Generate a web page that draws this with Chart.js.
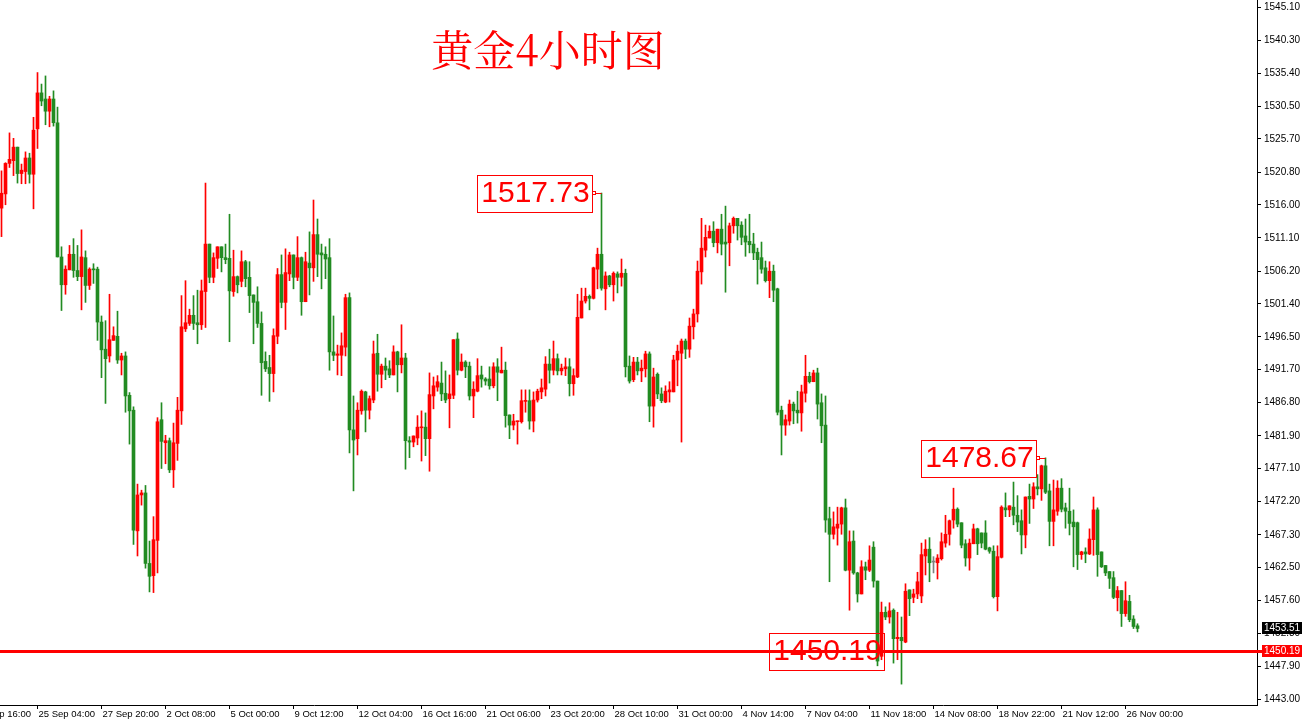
<!DOCTYPE html>
<html>
<head>
<meta charset="utf-8">
<script src="https://cdn.jsdelivr.net/npm/chart.js@4.4.0/dist/chart.umd.min.js"></script>
<style>
  html, body { margin: 0; padding: 0; background: #fff; overflow: hidden; }
  #wrap { width: 1303px; height: 719px; }
</style>
</head>
<body>
<div id="wrap"><canvas id="c" width="1303" height="719"></canvas></div>
<script>
// ── 4h candles, oldest first ────────────────────────────────
const opens = [
  1515.5,1517.6,1522.1,1522.5,1524.5,1520.6,1520.9,1522.9,1520.5,1527.2,
  1532.5,1531.6,1529.8,1531.6,1528.1,1508.3,1504.2,1506.4,1508.7,1506.3,
  1505.4,1508.2,1504.1,1506.5,1506.5,1498.7,1494.7,1493.7,1496.0,1496.6,
  1493.1,1493.7,1487.9,1485.7,1467.9,1473.2,1473.5,1463.1,1461.3,1466.5,
  1484.3,1480.9,1481.2,1476.9,1480.8,1485.6,1497.7,1498.5,1499.7,1498.6,
  1498.3,1503.2,1510.2,1505.3,1508.1,1509.8,1508.2,1508.1,1503.2,1505.4,
  1504.7,1507.6,1505.3,1502.7,1501.7,1498.5,1492.9,1492.0,1491.1,1496.6,
  1505.7,1501.6,1505.8,1508.6,1505.3,1508.2,1501.7,1507.4,1506.7,1511.6,
  1508.9,1508.7,1508.2,1494.3,1493.8,1493.8,1495.0,1502.3,1482.8,1481.5,
  1485.6,1488.4,1485.7,1487.2,1494.1,1491.0,1492.2,1491.8,1490.9,1494.3,
  1492.4,1493.4,1481.2,1481.0,1481.6,1483.1,1483.2,1481.5,1487.8,1489.1,
  1489.7,1488.2,1487.4,1487.9,1496.2,1491.6,1492.8,1492.2,1487.8,1488.5,
  1490.9,1490.3,1490.3,1489.3,1492.1,1491.2,1491.6,1485.0,1483.5,1484.0,
  1484.0,1487.0,1487.1,1484.1,1487.2,1488.4,1488.8,1492.5,1491.6,1493.3,
  1491.5,1491.8,1492.1,1489.6,1490.6,1499.3,1501.8,1502.5,1502.2,1506.5,
  1508.7,1503.6,1505.5,1504.2,1505.8,1505.3,1505.9,1492.2,1490.2,1492.8,
  1491.5,1491.8,1494.0,1486.3,1491.0,1488.1,1486.9,1488.4,1488.4,1493.1,
  1494.1,1495.9,1494.7,1498.0,1499.9,1506.1,1509.3,1511.1,1512.1,1510.4,
  1512.4,1510.5,1510.4,1512.9,1514.0,1513.0,1511.4,1510.6,1510.2,1509.0,
  1508.2,1506.7,1504.8,1506.2,1503.6,1485.7,1483.5,1484.1,1486.6,1485.7,
  1485.3,1488.2,1490.7,1489.9,1491.2,1486.8,1483.5,1469.7,1467.4,1468.3,
  1468.9,1471.3,1462.1,1466.4,1461.7,1458.6,1462.6,1462.1,1465.5,1460.5,
  1449.4,1455.9,1455.2,1456.2,1452.0,1452.2,1451.5,1459.2,1458.1,1458.6,
  1458.3,1464.2,1465.2,1463.3,1463.2,1463.8,1466.1,1467.4,1469.5,1471.1,
  1469.1,1466.0,1463.9,1466.0,1468.2,1467.6,1467.6,1465.4,1464.9,1458.2,
  1464.0,1471.3,1471.0,1471.4,1470.2,1469.4,1467.3,1473.0,1472.6,1474.4,
  1474.1,1477.5,1473.8,1469.3,1470.8,1474.2,1471.3,1470.8,1469.2,1469.1,
  1464.4,1464.8,1464.5,1466.6,1471.0,1464.8,1462.8,1461.9,1461.0,1458.05,
  1459.1,1455.7,1457.5,1454.9,1453.9
];
const highs = [
  1521.0,1522.2,1526.6,1525.8,1524.5,1522.0,1523.8,1523.6,1528.9,1535.5,
  1533.8,1535.0,1532.0,1532.8,1530.4,1509.8,1507.0,1510.0,1511.0,1510.0,
  1512.3,1509.2,1506.7,1507.3,1506.8,1499.6,1498.9,1502.8,1498.0,1500.3,
  1494.1,1494.3,1488.3,1486.2,1474.8,1473.9,1474.6,1466.4,1470.0,1484.6,
  1486.8,1482.0,1481.6,1483.8,1487.6,1502.6,1504.8,1500.6,1502.6,1503.4,
  1504.9,1519.2,1510.2,1508.9,1509.8,1509.8,1510.2,1514.6,1509.3,1505.5,
  1509.2,1507.8,1507.6,1502.7,1503.9,1500.2,1494.3,1493.8,1497.7,1506.6,
  1508.6,1509.5,1509.0,1508.6,1511.3,1508.3,1509.0,1512.0,1516.7,1513.9,
  1510.2,1509.8,1511.0,1499.6,1495.3,1497.1,1502.8,1503.0,1487.8,1486.8,
  1488.7,1488.5,1487.8,1495.9,1496.9,1492.5,1493.4,1493.0,1495.2,1494.4,
  1498.3,1494.1,1481.8,1481.9,1484.9,1485.6,1485.3,1491.2,1490.6,1490.8,
  1492.8,1491.5,1490.9,1496.1,1497.1,1494.0,1493.0,1492.8,1489.9,1493.3,
  1492.2,1490.5,1492.1,1492.7,1493.3,1495.0,1492.8,1485.0,1485.1,1484.1,
  1488.7,1488.7,1488.7,1488.4,1488.8,1490.3,1493.6,1494.7,1495.9,1494.0,
  1492.5,1493.4,1493.3,1491.8,1502.8,1503.7,1503.7,1502.7,1506.8,1509.6,
  1517.73,1506.1,1505.6,1506.1,1506.1,1508.0,1506.5,1493.7,1493.5,1493.5,
  1493.1,1494.4,1494.3,1491.9,1491.2,1489.0,1489.3,1489.9,1493.8,1495.3,
  1496.2,1496.2,1499.3,1500.6,1507.7,1514.0,1513.0,1512.9,1513.5,1512.4,
  1514.6,1515.8,1513.3,1514.2,1514.0,1513.5,1513.9,1514.6,1511.8,1509.6,
  1510.5,1507.7,1507.6,1507.1,1503.7,1486.3,1485.0,1487.2,1486.9,1488.5,
  1489.4,1493.8,1491.3,1491.6,1491.9,1488.1,1487.8,1471.4,1470.7,1471.4,
  1471.4,1472.6,1467.9,1467.9,1461.8,1463.5,1463.3,1465.7,1466.3,1460.5,
  1457.4,1456.7,1457.3,1456.4,1455.9,1455.2,1460.1,1459.2,1459.3,1461.8,
  1466.1,1466.6,1466.9,1464.1,1464.4,1467.6,1470.2,1469.5,1474.2,1471.3,
  1469.1,1466.6,1466.7,1468.9,1468.3,1467.6,1469.4,1465.5,1465.7,1465.7,
  1471.6,1473.5,1471.6,1475.1,1473.1,1471.0,1472.9,1474.8,1475.0,1476.2,
  1477.6,1478.67,1474.8,1475.4,1475.3,1475.6,1472.0,1474.2,1471.0,1469.2,
  1464.9,1465.4,1468.2,1472.9,1471.3,1464.8,1462.8,1461.9,1461.9,1459.7,
  1459.1,1460.4,1458.4,1455.4,1454.2
];
const lows = [
  1511.3,1516.0,1521.5,1520.3,1519.2,1519.1,1519.1,1519.2,1515.4,1524.3,
  1530.6,1527.8,1527.5,1527.6,1508.3,1500.4,1502.8,1506.4,1505.3,1504.8,
  1500.5,1501.6,1503.5,1504.4,1496.0,1490.5,1486.7,1492.8,1496.0,1492.6,
  1490.9,1485.4,1480.7,1465.9,1464.2,1471.7,1462.4,1458.9,1458.8,1461.7,
  1477.1,1477.8,1476.5,1474.3,1478.3,1483.6,1497.3,1498.2,1497.6,1495.5,
  1497.6,1497.9,1504.5,1504.5,1506.6,1506.1,1507.3,1495.8,1502.5,1503.0,
  1503.9,1503.9,1500.1,1495.5,1497.9,1487.9,1491.4,1487.0,1488.4,1495.5,
  1500.8,1497.6,1504.8,1503.6,1504.8,1499.7,1501.7,1502.7,1504.7,1505.4,
  1503.6,1505.1,1491.6,1493.0,1490.9,1490.8,1493.7,1479.4,1473.8,1479.1,
  1485.1,1482.5,1484.4,1486.8,1488.5,1489.0,1490.2,1490.5,1490.9,1488.4,
  1491.2,1477.0,1478.7,1480.3,1480.6,1478.2,1479.0,1476.7,1485.9,1488.5,
  1487.1,1486.8,1483.1,1487.4,1490.9,1491.5,1490.5,1487.2,1484.6,1488.4,
  1489.1,1489.4,1488.8,1489.0,1487.1,1491.2,1483.2,1481.5,1482.8,1480.7,
  1483.8,1485.4,1482.9,1482.5,1486.9,1487.4,1487.8,1489.7,1490.9,1490.9,
  1490.9,1490.8,1487.8,1487.9,1490.5,1499.3,1501.5,1500.5,1502.1,1503.6,
  1503.4,1500.5,1503.9,1501.8,1503.0,1504.0,1490.6,1489.7,1489.9,1490.9,
  1489.9,1490.6,1484.0,1483.2,1487.4,1486.8,1486.8,1486.9,1488.4,1489.3,
  1481.0,1493.3,1493.5,1496.2,1498.7,1504.3,1508.3,1511.1,1509.8,1508.9,
  1508.6,1503.1,1507.0,1511.8,1510.8,1510.1,1508.4,1508.9,1507.9,1504.3,
  1505.9,1504.6,1502.3,1501.7,1485.0,1479.1,1482.0,1483.5,1483.7,1483.8,
  1482.6,1486.9,1489.7,1489.9,1484.4,1480.9,1467.7,1460.4,1466.7,1465.8,
  1467.4,1462.0,1456.2,1461.5,1457.4,1458.6,1460.7,1461.9,1459.6,1448.0,
  1448.9,1454.8,1454.3,1448.4,1448.9,1445.3,1451.4,1455.4,1457.3,1457.9,
  1457.3,1461.4,1460.4,1461.7,1460.8,1463.6,1465.5,1465.8,1468.3,1468.5,
  1465.4,1462.7,1462.1,1466.0,1464.4,1465.4,1465.1,1464.6,1458.0,1456.1,
  1463.9,1470.0,1470.0,1468.8,1467.8,1464.5,1465.4,1469.0,1471.2,1473.2,
  1472.4,1473.4,1465.7,1465.7,1470.2,1470.7,1468.3,1467.3,1462.6,1462.2,
  1463.7,1463.2,1464.4,1464.3,1461.2,1462.5,1461.3,1459.4,1457.9,1456.1,
  1453.8,1455.3,1454.5,1453.5,1453.0
];
const closes = [
  1517.7,1522.1,1522.7,1524.5,1520.6,1521.1,1522.9,1520.5,1527.0,1532.5,
  1531.3,1529.8,1531.6,1528.1,1508.3,1504.2,1506.5,1508.7,1506.3,1505.4,
  1508.3,1504.1,1506.5,1506.4,1498.7,1494.6,1493.3,1496.1,1496.7,1493.1,
  1493.7,1487.8,1485.6,1468.0,1473.2,1473.5,1463.1,1461.2,1466.6,1484.0,
  1481.1,1481.2,1476.9,1480.9,1485.7,1498.0,1498.6,1499.7,1498.5,1498.3,
  1503.3,1510.2,1505.3,1508.2,1509.8,1508.2,1507.9,1503.3,1505.4,1504.2,
  1507.6,1505.1,1502.6,1501.6,1498.5,1492.7,1491.8,1491.1,1496.7,1505.7,
  1501.6,1506.0,1508.6,1505.3,1508.2,1501.7,1507.6,1506.7,1511.6,1508.7,
  1508.6,1508.0,1494.3,1493.8,1494.0,1495.2,1502.3,1482.8,1481.3,1485.7,
  1488.5,1485.7,1487.4,1494.0,1491.0,1492.2,1491.6,1490.9,1494.3,1492.4,
  1493.4,1481.2,1481.0,1481.9,1483.2,1483.2,1481.5,1488.0,1489.3,1489.9,
  1488.1,1487.2,1488.1,1496.1,1491.6,1492.8,1492.1,1487.8,1488.8,1490.8,
  1490.3,1490.0,1489.3,1492.1,1491.3,1491.6,1484.9,1483.5,1484.1,1484.1,
  1487.1,1487.1,1484.1,1487.2,1488.5,1489.0,1492.5,1491.6,1493.3,1491.5,
  1491.9,1492.1,1489.6,1490.8,1499.4,1501.8,1502.5,1502.2,1506.7,1508.7,
  1503.7,1505.5,1504.2,1505.9,1505.3,1505.9,1492.1,1490.0,1492.8,1491.5,
  1491.9,1494.0,1486.3,1490.6,1488.1,1487.1,1488.5,1488.7,1493.1,1494.4,
  1495.9,1494.7,1498.1,1499.9,1506.2,1509.6,1511.2,1512.1,1510.4,1512.4,
  1510.2,1510.2,1512.9,1514.0,1512.9,1511.2,1510.5,1510.1,1508.9,1507.9,
  1506.5,1504.8,1506.2,1503.4,1485.4,1483.5,1484.3,1486.6,1485.6,1485.3,
  1488.4,1490.7,1489.9,1491.2,1486.6,1483.4,1469.5,1467.4,1468.5,1468.9,
  1471.3,1462.1,1466.3,1461.7,1458.6,1462.6,1462.1,1463.6,1460.5,1448.7,
  1455.9,1455.2,1456.1,1452.0,1452.2,1451.7,1459.0,1457.9,1458.6,1460.4,
  1464.4,1465.2,1463.2,1463.3,1463.9,1466.3,1467.4,1469.4,1471.1,1468.9,
  1465.8,1463.9,1466.1,1468.2,1466.0,1466.1,1465.2,1464.9,1458.2,1464.1,
  1471.4,1471.0,1471.6,1470.2,1469.2,1467.3,1472.9,1472.6,1474.4,1474.1,
  1477.5,1473.6,1469.3,1471.0,1474.2,1471.1,1470.8,1469.0,1468.5,1464.4,
  1464.8,1464.5,1466.7,1471.0,1464.4,1462.6,1461.7,1460.9,1458.1,1459.1,
  1455.7,1457.6,1454.8,1453.8,1453.51
];

// time axis labels (bar index → text)
const xTickIdx = [-7, 9, 25, 41, 57, 73, 89, 105, 121, 137, 153, 169, 185, 201, 217, 233, 249, 265, 281];
const xTickLabels = [
  '23 Sep 16:00', '25 Sep 04:00', '27 Sep 20:00', '2 Oct 08:00', '5 Oct 00:00', '9 Oct 12:00',
  '12 Oct 04:00', '16 Oct 16:00', '21 Oct 06:00', '23 Oct 20:00', '28 Oct 10:00', '31 Oct 00:00',
  '4 Nov 14:00', '7 Nov 04:00', '11 Nov 18:00', '14 Nov 08:00', '18 Nov 22:00', '21 Nov 12:00', '26 Nov 00:00'
];

// price scale ticks
const yTickValues = [
  1545.10, 1540.30, 1535.40, 1530.50, 1525.70, 1520.80, 1516.00, 1511.10, 1506.20, 1501.40, 1496.50,
  1491.70, 1486.80, 1481.90, 1477.10, 1472.20, 1467.30, 1462.50, 1457.60, 1452.80, 1447.90, 1443.00
];

// marked prices: text box + bar it belongs to
const noteValues = [1517.73, 1478.67, 1450.19];
const noteIdx = [150, 261, 223];
const noteLinked = [true, true, false];

const lineLevel = 1450.19;   // red horizontal level
const lastPrice = 1453.51;
const title = '黄金4小时图';

// ── colours ─────────────────────────────────────────────────
const UP = '#FF0000', DOWN = '#228B22', FLAT = '#808080';
const colorOf = (i) => closes[i] > opens[i] ? UP : (closes[i] < opens[i] ? DOWN : FLAT);
const idx = opens.map((_, i) => i);
const colors = idx.map(colorOf);

const FONT = '"Liberation Sans", Arial, sans-serif';

// overlays: level line, price boxes, title, price tags
const overlay = {
  id: 'overlay',
  afterDatasetsDraw(chart) {
    const { ctx, chartArea, scales: { x, y } } = chart;
    ctx.save();

    // level line
    const ly = Math.round(y.getPixelForValue(lineLevel));
    ctx.strokeStyle = '#FF0000';
    ctx.lineWidth = 3;
    ctx.beginPath();
    ctx.moveTo(0, ly + 0.5);
    ctx.lineTo(chartArea.right + 5, ly + 0.5);
    ctx.stroke();

    // boxes
    noteValues.forEach((v, k) => {
      const cx = x.getPixelForValue(noteIdx[k]);
      const cy = Math.round(y.getPixelForValue(v));
      const right = Math.round(cx - 10);
      const w = 115, h = 37;
      ctx.lineWidth = 1;
      ctx.strokeStyle = '#FF0000';
      ctx.strokeRect(right - w + 0.5, cy - 18 + 0.5, w, h);
      ctx.fillStyle = '#FF0000';
      ctx.font = '30px ' + FONT;
      ctx.textAlign = 'center';
      ctx.textBaseline = 'middle';
      ctx.fillText(v.toFixed(2), right - w / 2 + 1, cy + 1);
      if (noteLinked[k]) {
        ctx.strokeRect(right + 0.5, cy - 1.5, 3, 3);
        ctx.beginPath();
        ctx.moveTo(right + 3.5, cy + 0.5);
        ctx.lineTo(cx, cy + 0.5);
        ctx.stroke();
      }
    });
    ctx.restore();
  },
  afterDraw(chart) {
    const { ctx, chartArea, scales: { y } } = chart;
    ctx.save();

    // title
    ctx.fillStyle = '#FF0000';
    ctx.font = '42px "Noto Serif CJK SC", "Noto Sans CJK SC", serif';
    ctx.textAlign = 'center';
    ctx.textBaseline = 'middle';
    ctx.fillText(title, 548, 50);

    // price tags on the axis
    const tag = (v, bg) => {
      const ty = Math.round(y.getPixelForValue(v));
      ctx.fillStyle = bg;
      ctx.fillRect(chartArea.right + 5, ty - 6, 40, 12);
      ctx.fillStyle = '#fff';
      ctx.font = '10px ' + FONT;
      ctx.textAlign = 'left';
      ctx.textBaseline = 'middle';
      ctx.fillText(v.toFixed(2), chartArea.right + 7, ty + 0.5);
    };
    tag(lastPrice, '#000');
    tag(lineLevel, '#FF0000');
    ctx.restore();
  }
};

new Chart(document.getElementById('c'), {
  type: 'bar',
  data: {
    datasets: [
      {
        label: 'wick',
        data: idx.map(i => ({ x: i, y: [lows[i], highs[i]] })),
        backgroundColor: colors,
        barThickness: 1,
        grouped: false,
        borderWidth: 0
      },
      {
        label: 'body',
        data: idx.map(i => ({ x: i, y: [Math.min(opens[i], closes[i]), Math.max(opens[i], closes[i])] })),
        backgroundColor: colors,
        barThickness: 3,
        minBarLength: 1,
        grouped: false,
        borderWidth: 0
      }
    ]
  },
  options: {
    responsive: false,
    animation: false,
    devicePixelRatio: 1,
    layout: { padding: 0 },
    plugins: {
      legend: { display: false },
      tooltip: { enabled: false },
      title: { display: false }
    },
    scales: {
      x: {
        type: 'linear',
        min: -0.375,
        max: 313.875,
        offset: false,
        grid: { display: true, drawOnChartArea: false, drawTicks: true, tickLength: 4, color: '#000', offset: false },
        border: { display: true, color: '#000', width: 1 },
        ticks: {
          autoSkip: false, maxRotation: 0, minRotation: 0,
          align: 'start', labelOffset: 1, padding: 0,
          color: '#000', font: { family: FONT, size: 9.5 },
          callback: (v, i) => xTickLabels[i]
        },
        afterBuildTicks: (s) => { s.ticks = xTickIdx.map(v => ({ value: v })); },
        afterFit: (s) => { s.height = 14; s.paddingLeft = 0; s.paddingRight = 0; }
      },
      y: {
        position: 'right',
        min: 1442.22,
        max: 1546.2,
        grid: { display: true, drawOnChartArea: false, drawTicks: true, tickLength: 4, color: '#000' },
        border: { display: true, color: '#000', width: 1 },
        ticks: {
          autoSkip: false, padding: 3,
          color: '#000', font: { family: FONT, size: 10 },
          callback: (v) => Number(v).toFixed(2)
        },
        afterBuildTicks: (s) => { s.ticks = yTickValues.map(v => ({ value: v })); },
        afterFit: (s) => { s.width = 46; s.paddingTop = 0; s.paddingBottom = 0; }
      }
    }
  },
  plugins: [overlay]
});
</script>
</body>
</html>
